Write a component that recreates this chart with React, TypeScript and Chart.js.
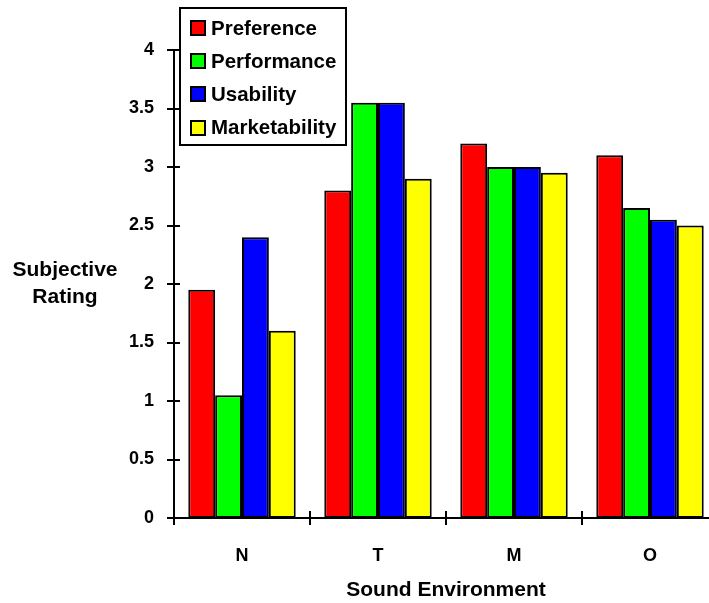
import React, { useEffect, useRef } from "react";
import { Chart, registerables } from "chart.js";

Chart.register(...registerables);

const categories = ["N", "T", "M", "O"];
const seriesNames = ["Preference", "Performance", "Usability", "Marketability"];
const preference = [1.95, 2.8, 3.2, 3.1];
const performance = [1.05, 3.55, 3.0, 2.65];
const usability = [2.4, 3.55, 3.0, 2.55];
const marketability = [1.6, 2.9, 2.95, 2.5];
const seriesColors = ["#FF0000", "#00FF00", "#0000FF", "#FFFF00"];
const yTicks = [0, 0.5, 1, 1.5, 2, 2.5, 3, 3.5, 4];
const xTitle = "Sound Environment";
const yTitleLines = ["Subjective", "Rating"];

const FONT = "'Liberation Sans', Arial, Helvetica, sans-serif";

const customAxes = {
  id: "customAxes",
  afterDatasetsDraw(chart: any) {
    const { ctx, chartArea, scales } = chart;
    const xs = scales.x;
    const ys = scales.y;
    const left = chartArea.left;
    const bottom = chartArea.bottom;
    ctx.save();
    ctx.strokeStyle = "#000";
    ctx.lineWidth = 2;
    ctx.beginPath();
    ctx.moveTo(left, ys.getPixelForValue(yTicks[yTicks.length - 1]) - 1);
    ctx.lineTo(left, bottom + 7);
    ctx.moveTo(left, bottom);
    ctx.lineTo(chartArea.right, bottom);
    yTicks.forEach((v) => {
      const py = Math.round(ys.getPixelForValue(v));
      ctx.moveTo(left - 7, py);
      ctx.lineTo(left + 6, py);
    });
    for (let i = 1; i <= categories.length; i++) {
      const px = Math.round(
        (xs.getPixelForValue(i - 1) + xs.getPixelForValue(Math.min(i, categories.length - 1))) / 2
      );
      const bx = i === categories.length ? chartArea.right : px;
      ctx.moveTo(bx, bottom - 7);
      ctx.lineTo(bx, bottom + 7);
    }
    ctx.stroke();

    ctx.fillStyle = "#000";
    ctx.font = `bold 21px ${FONT}`;
    ctx.textAlign = "center";
    ctx.textBaseline = "middle";
    ctx.fillText(xTitle, (chartArea.left + chartArea.right) / 2, 590);
    ctx.fillText(yTitleLines[0], 65, 270);
    ctx.fillText(yTitleLines[1], 65, 297);
    ctx.restore();
  },
};

const customLegend = {
  id: "customLegend",
  afterDraw(chart: any) {
    const { ctx } = chart;
    ctx.save();
    ctx.fillStyle = "#fff";
    ctx.fillRect(180, 8, 166, 137);
    ctx.strokeStyle = "#000";
    ctx.lineWidth = 2;
    ctx.strokeRect(180, 8, 166, 137);
    ctx.font = `bold 20.5px ${FONT}`;
    ctx.textAlign = "left";
    ctx.textBaseline = "middle";
    chart.data.datasets.forEach((ds: any, i: number) => {
      const cy = 28 + i * 33.2;
      ctx.fillStyle = ds.backgroundColor;
      ctx.fillRect(191, cy - 7, 14, 14);
      ctx.lineWidth = 2;
      ctx.strokeStyle = "#000";
      ctx.strokeRect(191, Math.round(cy - 7), 14, 14);
      ctx.fillStyle = "#000";
      ctx.fillText(ds.label, 211, cy + 1);
    });
    ctx.restore();
  },
};

export default function App() {
  const canvasRef = useRef<HTMLCanvasElement | null>(null);

  useEffect(() => {
    if (!canvasRef.current) return;
    const seriesValues = [preference, performance, usability, marketability];
    const chart = new Chart(canvasRef.current, {
      type: "bar",
      data: {
        labels: categories,
        datasets: seriesNames.map((name, i) => ({
          label: name,
          data: seriesValues[i],
          backgroundColor: seriesColors[i],
          borderColor: "#000",
          borderWidth: 2,
          borderSkipped: false,
          categoryPercentage: 0.79,
          barPercentage: 1.0,
        })),
      },
      options: {
        animation: false,
        responsive: false,
        maintainAspectRatio: false,
        devicePixelRatio: 1,
        layout: { padding: { top: 50, left: 0, right: 0, bottom: 0 } },
        plugins: {
          legend: { display: false },
          tooltip: { enabled: false },
          title: { display: false },
        },
        scales: {
          x: {
            type: "category",
            grid: { display: false, drawTicks: false },
            border: { display: false },
            ticks: {
              color: "#000",
              padding: 27,
              font: { family: FONT, size: 18, weight: "bold" },
            },
            afterFit: (scale: any) => {
              scale.height = 85;
            },
          },
          y: {
            min: 0,
            max: 4,
            grid: { display: false, drawTicks: false },
            border: { display: false },
            ticks: {
              stepSize: 0.5,
              color: "#000",
              padding: 20,
              font: { family: FONT, size: 18, weight: "bold" },
              callback: (v: any) => String(Number(v)),
            },
            afterFit: (scale: any) => {
              scale.width = 174;
            },
          },
        },
      },
      plugins: [customAxes, customLegend],
    });
    return () => chart.destroy();
  }, []);

  return (
    <div
      style={{
        position: "absolute",
        left: 0,
        top: 0,
        width: 709,
        height: 603,
        overflow: "hidden",
        background: "#fff",
      }}
    >
      <canvas ref={canvasRef} width={718} height={603} style={{ width: 718, height: 603, display: "block" }} />
    </div>
  );
}
